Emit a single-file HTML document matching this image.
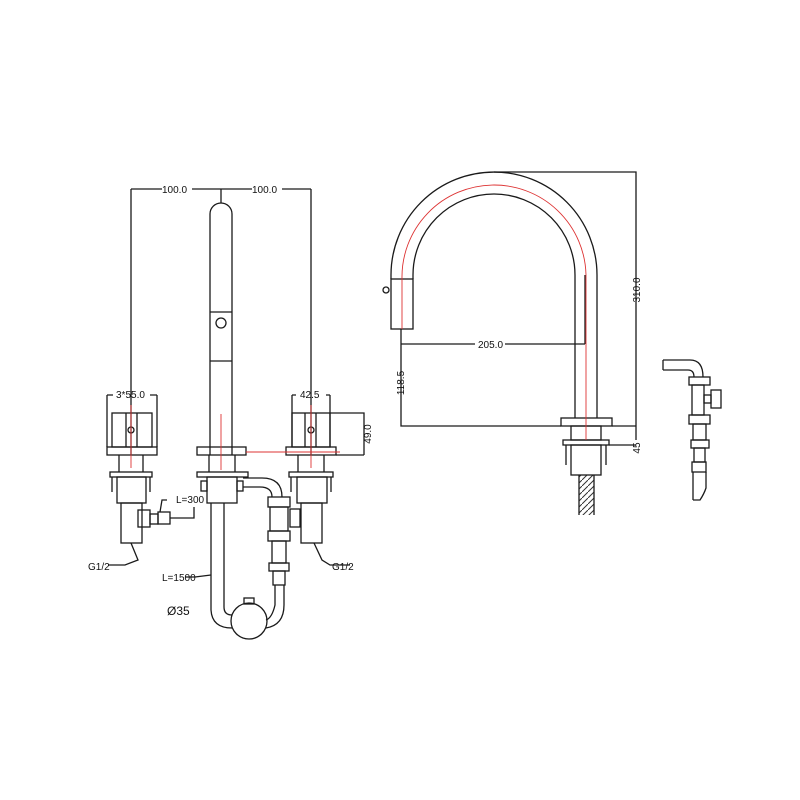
<!DOCTYPE html>
<html><head><meta charset="utf-8"><style>
html,body{margin:0;padding:0;background:#fff;}
svg{display:block}
text{font-family:"Liberation Sans",sans-serif;font-size:10px;fill:#111}
</style></head><body>
<svg width="800" height="800" viewBox="0 0 800 800" xmlns="http://www.w3.org/2000/svg">
<defs><pattern id="br" width="6" height="6" patternUnits="userSpaceOnUse"><path d="M0 6L6 0" stroke="#333" stroke-width="1"/></pattern></defs>
<rect x="579" y="475" width="15" height="40" fill="url(#br)"/>
<g fill="none" stroke="#1a1a1a" stroke-width="1.3">
<path d="M131 189H162 M192 189H252 M282 189H311 M221 189V203 M131 189V455 M311 189V455"/>
<path d="M210 455V214 A11 11 0 0 1 232 214V455 M210 312H232 M210 361H232"/>
<circle cx="221" cy="323" r="5"/>
<path d="M107 395H113 M150 395H157 M107 395V447 M157 395V447"/>
<rect x="112" y="413" width="40" height="34"/>
<path d="M126 413V447 M137 413V447"/>
<circle cx="131" cy="430" r="3"/>
<path d="M292 395H296 M326 395H330 M292 395V447 M330 395V447 M330 413H364V455 M336 455H364"/>
<rect x="292" y="413" width="38" height="34"/>
<path d="M305 413V447 M316 413V447"/>
<circle cx="311" cy="430" r="3"/>
<rect x="107" y="447" width="50" height="8"/>
<rect x="197" y="447" width="49" height="8"/>
<rect x="286" y="447" width="50" height="8"/>
<path d="M119 455V472 M143 455V472 M209 455V472 M235 455V472 M298 455V472 M324 455V472"/>
<rect x="110" y="472" width="42" height="5"/><path d="M112 477V492 M150 477V492"/>
<rect x="117" y="477" width="29" height="26"/>
<rect x="121" y="503" width="21" height="40"/>
<rect x="138" y="510" width="12" height="17"/><rect x="150" y="514" width="8" height="10"/><rect x="158" y="512" width="12" height="12"/>
<path d="M170 518H194V507 M160 512L162 500H167"/>
<path d="M131 543L138 560L125 565H108"/>
<rect x="197" y="472" width="51" height="5"/>
<rect x="207" y="477" width="30" height="26"/>
<rect x="201" y="481" width="6" height="10"/><rect x="237" y="481" width="6" height="10"/>
<path d="M211 503V610 Q212 628 232 628 M224 503V607 Q224 615 232 615"/>
<path d="M211 575L195 577H185"/>
<path d="M243 478H262 Q282 478 282 497 M243 487H260 Q272 487 272 497"/>
<rect x="268" y="497" width="22" height="10"/>
<rect x="270" y="507" width="18" height="24"/>
<rect x="268" y="531" width="22" height="10"/>
<rect x="272" y="541" width="14" height="22"/>
<rect x="269" y="563" width="20" height="8"/>
<rect x="273" y="571" width="12" height="14"/>
<path d="M275 585V605 Q272 618 266 620 M284 585V605 Q284 625 266 628"/>
<circle cx="249" cy="621" r="18"/>
<rect x="244" y="598" width="10" height="6"/>
<rect x="290" y="509" width="10" height="18"/>
<rect x="289" y="472" width="44" height="5"/><path d="M291 477V492 M331 477V492"/>
<rect x="297" y="477" width="30" height="26"/>
<rect x="301" y="503" width="21" height="40"/>
<path d="M314 543L322 560L330 565H350"/>
<path d="M391 279V275 A103 103 0 0 1 597 275V418 M413 279V275 A81 81 0 0 1 575 275V418"/>
<rect x="391" y="279" width="22" height="50"/>
<circle cx="386" cy="290" r="3"/>
<rect x="561" y="418" width="51" height="8"/>
<rect x="571" y="426" width="30" height="14"/>
<rect x="563" y="440" width="46" height="5"/>
<path d="M566 445V465 M606 445V465"/>
<rect x="571" y="445" width="30" height="30"/>
<path d="M579 475V515 M594 475V515"/>
<path d="M494 172H636V440 M612 426H636 M609 445H636 M401 329V426H561 M401 344H475 M505 344H585 M585 275V344"/>
<path d="M663 360H690 Q703 360 703 377 M663 370H688 Q694 370 694 377 M663 360V370"/>
<rect x="689" y="377" width="21" height="8"/>
<rect x="692" y="385" width="12" height="30"/>
<rect x="704" y="395" width="7" height="8"/><rect x="711" y="390" width="10" height="18"/>
<rect x="689" y="415" width="21" height="9"/>
<rect x="693" y="424" width="13" height="16"/>
<rect x="691" y="440" width="18" height="8"/>
<rect x="694" y="448" width="11" height="14"/>
<rect x="692" y="462" width="14" height="10"/>
<path d="M693 472V500 M706 472V488 Q704 494 700 500 H693"/>
</g>
<g stroke="#d33" stroke-width="0.9" fill="none">
<path d="M131 405V468 M221 414V470 M311 405V468 M246 452H340"/>
<path d="M402 279 A92 92 0 0 1 586 275V440 M402 279V329"/>
</g>
<text x="162" y="193">100.0</text>
<text x="252" y="193">100.0</text>
<text x="116" y="398">3*55.0</text>
<text x="300" y="398">42.5</text>
<text transform="translate(371,434) rotate(-90)" text-anchor="middle">49.0</text>
<text x="176" y="503">L=300</text>
<text x="88" y="570">G1/2</text>
<text x="332" y="570">G1/2</text>
<text x="162" y="581">L=1500</text>
<text x="167" y="615" style="font-size:12px">Ø35</text>
<text x="478" y="348">205.0</text>
<text transform="translate(404,383) rotate(-90)" text-anchor="middle">118.5</text>
<text transform="translate(640,290) rotate(-90)" text-anchor="middle">310.0</text>
<text transform="translate(640,448) rotate(-90)" text-anchor="middle">45</text>
</svg>
</body></html>
